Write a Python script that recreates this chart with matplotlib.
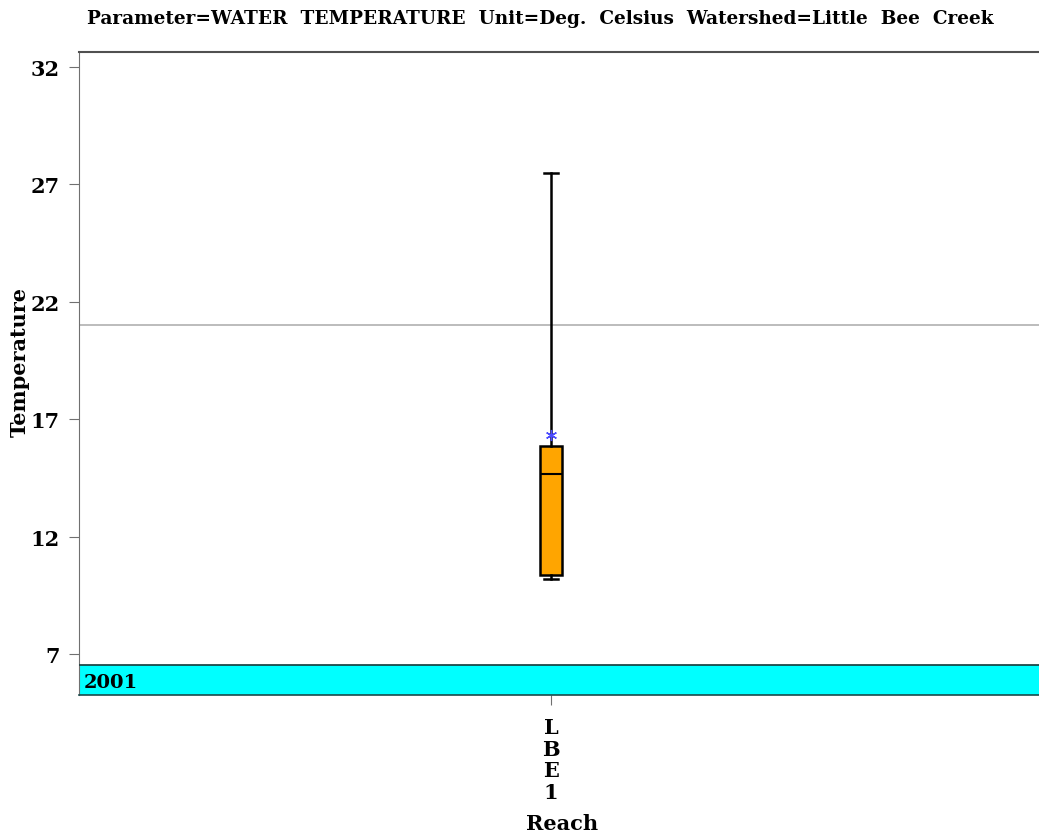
import numpy as np
import matplotlib
matplotlib.use('Agg')
import matplotlib.pyplot as plt

# box statistics
reaches = ['LBE1']
q1 = [10.38]
median = [14.66]
q3 = [15.85]
whislo = [10.19]
whishi = [27.47]
means = [16.32]
ref_level = 21.0
year_label = '2001'
yticks = [7, 12, 17, 22, 27, 32]

plt.rcParams['font.family'] = ['DejaVu Serif']
plt.rcParams['font.weight'] = 'bold'

fig = plt.figure(figsize=(10.39, 8.37), dpi=100)
ax = fig.add_axes([79/1039, 1 - 696/837, 1 - 79/1039, (696 - 53)/837])

stats = []
for i in range(len(reaches)):
    stats.append({'med': median[i], 'q1': q1[i], 'q3': q3[i],
                  'whislo': whislo[i], 'whishi': whishi[i],
                  'mean': means[i], 'fliers': [], 'label': reaches[i]})

ax.axhline(ref_level, color='#b0b0b0', lw=1.2, zorder=1)

bp = ax.bxp(stats, positions=[1], widths=0.046, showmeans=True,
            patch_artist=True, manage_ticks=False,
            boxprops=dict(facecolor='#ffa500', edgecolor='black', lw=1.8),
            medianprops=dict(color='black', lw=1.5),
            whiskerprops=dict(color='black', lw=1.8),
            capprops=dict(color='black', lw=1.8),
            meanprops=dict(marker=(6, 2, 0), markeredgecolor='#4a4aff',
                           markerfacecolor='#4a4aff', markersize=8, mew=1))
for c in bp['caps']:
    c.set_xdata(np.array([1 - 0.014, 1 + 0.014]))

ylo, yhi = 5.25, 32.64
band_top = 6.53
ax.axhspan(ylo, band_top, color='#00ffff', zorder=2)
ax.axhline(band_top, color='#1a3a3a', lw=1.2, zorder=3)
ax.text(0.01, (ylo + band_top) / 2 - 0.1, year_label, fontsize=14,
        fontweight='bold', va='center', ha='left', zorder=4)

ax.set_ylim(ylo, yhi)
ax.set_xlim(0, 1 / ((551 - 79) / 960))
ax.set_yticks(yticks)
ax.set_yticklabels([str(t) for t in yticks], fontsize=15, fontweight='bold')
ax.set_xticks([1])
ax.set_xticklabels(['\n'.join(r) for r in reaches], fontsize=15,
                   fontweight='bold', linespacing=1.1)
ax.tick_params(axis='y', length=7, color='#707070', pad=7)
ax.tick_params(axis='x', length=7, color='#707070', pad=9)

for s in ['right']:
    ax.spines[s].set_visible(False)
ax.spines['top'].set_color('#505050')
ax.spines['top'].set_linewidth(1.5)
ax.spines['left'].set_color('#707070')
ax.spines['bottom'].set_color('#1a4a4a')
ax.spines['bottom'].set_linewidth(1.2)

fig.text(20/1039, 1 - 362/837, 'Temperature', rotation=90, fontsize=15,
         fontweight='bold', ha='center', va='center')
fig.text(562/1039, 1 - 824/837, 'Reach', fontsize=15,
         fontweight='bold', ha='center', va='center')

fig.text(540/1039, 1 - 19/837,
         'Parameter=WATER  TEMPERATURE  Unit=Deg.  Celsius  Watershed=Little  Bee  Creek',
         ha='center', va='center', fontsize=13.3, fontweight='bold')

fig.savefig('out.png', dpi=100)
